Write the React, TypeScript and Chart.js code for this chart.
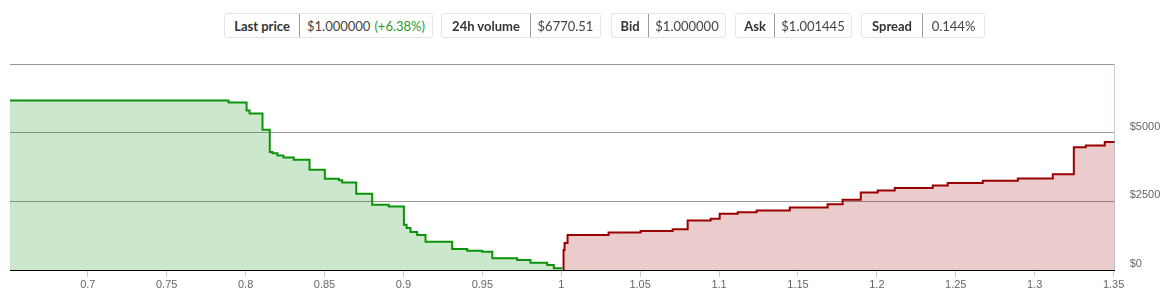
import React, { useEffect, useRef } from 'react';
import { Chart, registerables } from 'chart.js';

Chart.register(...registerables);

// Header stats
const statLabels = ['Last price', '24h volume', 'Bid', 'Ask', 'Spread'];
const statValues = ['$1.000000', '$6770.51', '$1.000000', '$1.001445', '0.144%'];
const lastPriceChange = '(+6.38%)';

// Axis range / ticks
const priceMin = 0.6507;
const priceMax = 1.3507;
const priceTicks = [0.7, 0.75, 0.8, 0.85, 0.9, 0.95, 1, 1.05, 1.1, 1.15, 1.2, 1.25, 1.3, 1.35];
const depthMin = 0;
const depthMax = 7500;
const depthStep = 2500;

// Bids (cumulative depth, level holds from this price to the next)
const bidPrices = [0.6507, 0.7892, 0.8006, 0.8025, 0.8107, 0.8153, 0.817, 0.8202, 0.824, 0.8305, 0.8405, 0.8502, 0.8591, 0.8612, 0.8701, 0.8802, 0.8907, 0.9003, 0.902, 0.9045, 0.9087, 0.914, 0.9309, 0.9404, 0.9499, 0.9563, 0.9721, 0.9805, 0.9911, 0.9953, 1.0];
const bidDepth = [6170, 6095, 5804, 5694, 5110, 4296, 4252, 4172, 4099, 4015, 3650, 3322, 3267, 3186, 2774, 2373, 2310, 1643, 1533, 1387, 1278, 1033, 767, 704, 668, 427, 365, 266, 183, 62, 25];

// Asks
const askPrices = [1.00145, 1.00145, 1.0021, 1.004, 1.03, 1.0503, 1.0706, 1.0801, 1.0947, 1.1004, 1.1118, 1.1238, 1.1448, 1.1688, 1.1783, 1.1898, 1.2005, 1.2113, 1.2354, 1.2449, 1.2671, 1.2893, 1.3115, 1.3248, 1.3324, 1.3444, 1.3507];
const askDepth = [0, 730, 986, 1278, 1361, 1424, 1486, 1800, 1862, 2044, 2106, 2164, 2274, 2398, 2555, 2821, 2895, 2982, 3077, 3165, 3249, 3332, 3486, 4471, 4537, 4661, 4661];

// Header box geometry (left, width, label section width)
const boxLeft = [224, 441, 611, 735, 861];
const boxWidth = [209, 160, 115, 117, 124];
const boxLabelWidth = [75, 89, 37, 39, 61];

function StatBox({ i }: { i: number }) {
  return (
    <div
      style={{
        position: 'absolute',
        left: boxLeft[i],
        top: 13,
        width: boxWidth[i],
        height: 25,
        boxSizing: 'border-box',
        border: '1px solid #e4e4e4',
        borderRadius: 3,
        display: 'flex',
        alignItems: 'center',
        fontFamily: 'Lato, "Open Sans", sans-serif',
        fontSize: 13,
        background: '#fff',
      }}
    >
      <div
        style={{
          width: boxLabelWidth[i],
          height: '100%',
          boxSizing: 'border-box',
          borderRight: '1px solid #999',
          display: 'flex',
          alignItems: 'center',
          justifyContent: 'center',
          fontWeight: 700,
          color: '#333',
          whiteSpace: 'nowrap',
        }}
      >
        {statLabels[i]}
      </div>
      <div
        style={{
          flex: 1,
          display: 'flex',
          alignItems: 'center',
          justifyContent: 'center',
          color: '#444',
          whiteSpace: 'nowrap',
        }}
      >
        {statValues[i]}
        {i === 0 ? <span style={{ color: '#2a9a2a', marginLeft: 4 }}>{lastPriceChange}</span> : null}
      </div>
    </div>
  );
}

export default function App() {
  const canvasRef = useRef<HTMLCanvasElement | null>(null);

  useEffect(() => {
    const canvas = canvasRef.current;
    if (!canvas) return;
    const bids = bidPrices.map((p, i) => ({ x: p, y: bidDepth[i] }));
    const asks = askPrices.map((p, i) => ({ x: p, y: askDepth[i] }));
    const chart = new Chart(canvas, {
      type: 'line',
      data: {
        datasets: [
          {
            label: 'Bids',
            data: bids,
            stepped: 'before',
            borderColor: '#0b930b',
            backgroundColor: 'rgba(0,140,0,0.2)',
            borderWidth: 2,
            pointRadius: 0,
            fill: 'origin',
          },
          {
            label: 'Asks',
            data: asks,
            stepped: 'before',
            borderColor: '#9b0000',
            backgroundColor: 'rgba(150,0,0,0.2)',
            borderWidth: 2,
            pointRadius: 0,
            fill: 'origin',
          },
        ],
      },
      options: {
        animation: false,
        responsive: false,
        devicePixelRatio: 1,
        layout: { padding: { left: 10, top: 64, right: 0, bottom: 0 } },
        plugins: { legend: { display: false }, tooltip: { enabled: false } },
        scales: {
          x: {
            type: 'linear',
            min: priceMin,
            max: priceMax,
            afterBuildTicks: (s: any) => {
              s.ticks = priceTicks.map((v) => ({ value: v }));
            },
            afterFit: (s: any) => {
              s.height = 35;
            },
            ticks: {
              color: '#666',
              padding: 1,
              maxRotation: 0,
              autoSkip: false,
              font: { family: '"Liberation Sans", Arial, sans-serif', size: 11 },
              callback: (v: any) => String(parseFloat(Number(v).toFixed(2))),
            },
            grid: {
              drawOnChartArea: false,
              drawTicks: true,
              tickLength: 7,
              tickColor: '#cccccc',
            },
            border: { display: true, color: '#000', width: 1, z: 1 },
          },
          y: {
            type: 'linear',
            position: 'right',
            min: depthMin,
            max: depthMax,
            afterFit: (s: any) => {
              s.width = 55.3;
            },
            ticks: {
              stepSize: depthStep,
              color: '#666',
              padding: 15,
              labelOffset: -6,
              font: { family: '"Liberation Sans", Arial, sans-serif', size: 11 },
              callback: (v: any) => (Number(v) >= depthMax ? '' : '$' + v),
            },
            grid: { color: '#999999', drawTicks: false },
            border: { display: true, color: '#c4cedb', width: 1 },
          },
        },
      },
    });
    return () => chart.destroy();
  }, []);

  return (
    <div style={{ position: 'absolute', left: 0, top: 0, width: 1170, height: 305, background: '#fff' }}>
      <canvas
        ref={canvasRef}
        width={1170}
        height={305}
        style={{ position: 'absolute', left: 0, top: 0, width: 1170, height: 305 }}
      />
      {statLabels.map((_, i) => (
        <StatBox key={i} i={i} />
      ))}
    </div>
  );
}
